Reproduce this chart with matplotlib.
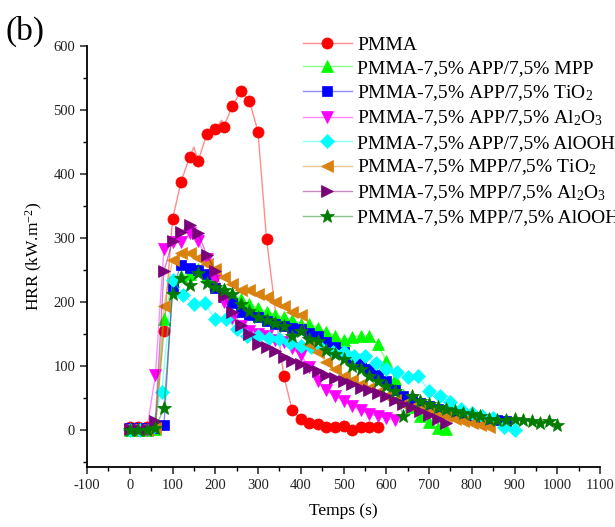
import matplotlib
matplotlib.use("Agg")
import matplotlib.pyplot as plt
from matplotlib.ticker import MultipleLocator
from matplotlib.colors import to_rgba
import numpy as np

plt.rcParams['font.family'] = ['Liberation Serif', 'DejaVu Serif']
plt.rcParams['mathtext.fontset'] = 'custom'
plt.rcParams['mathtext.rm'] = 'Liberation Serif'
plt.rcParams['mathtext.it'] = 'Liberation Serif:italic'
plt.rcParams['axes.unicode_minus'] = False

# ---------------- data ----------------
pmma_time = [0, 20, 40, 60, 80, 100, 120, 140, 160, 180, 200, 220, 240, 260, 280, 300, 320,
             360, 380, 400, 420, 440, 460, 480, 500, 520, 540, 560, 580]
pmma_hrr = [5, 5, 5, 5, 155, 329, 388, 426, 420, 462, 470, 474, 506, 530, 514, 466, 298,
            85, 31, 17, 10, 9, 5, 4, 6, 0, 5, 5, 5]
# extra points of the PMMA curve between markers
pmma_curve_time = [150, 215, 340]
pmma_curve_hrr = [442, 484, 190]

t20_740 = list(range(0, 741, 20))

app_mpp_time = t20_740
app_mpp_hrr = [0, 0, 0, 2, 173, 233, 241, 243, 252, 240, 228, 220, 212, 204, 197, 190, 185,
               180, 176, 172, 166, 166, 160, 153, 147, 140, 145, 147, 147, 134, 108, 80,
               55, 35, 22, 12, 3, 1]

app_tio2_time = list(range(0, 881, 20))
app_tio2_hrr = [3, 3, 3, 3, 8, 222, 257, 253, 250, 243, 222, 208, 198, 184, 180, 176, 170,
                165, 163, 160, 157, 152, 146, 138, 129, 121, 113, 104, 95, 86, 76, 62,
                53, 48, 42, 37, 33, 29, 26, 23, 21, 19, 17, 16, 14]

app_al2o3_time = list(range(0, 621, 20))
app_al2o3_hrr = [0, 0, 0, 86, 283, 293, 293, 307, 296, 267, 235, 200, 175, 162, 155, 150,
                 146, 140, 137, 128, 117, 98, 77, 62, 53, 45, 38, 31, 25, 22, 18, 15]

app_alooh_time = list(range(0, 901, 25))
app_alooh_hrr = [0, 0, 2, 60, 235, 211, 197, 198, 173, 173, 158, 147, 146, 143, 142, 136,
                 131, 130, 126, 122, 121, 116, 116, 105, 95, 90, 82, 84, 61, 53, 43, 32,
                 27, 22, 18, 4, 0]

mpp_tio2_time = list(range(0, 841, 20))
mpp_tio2_hrr = [0, 0, 0, 3, 193, 265, 276, 276, 268, 260, 252, 239, 228, 218, 218, 213,
                207, 200, 194, 184, 179, 134, 121, 106, 95, 84, 78, 72, 66, 60, 53, 46,
                40, 36, 32, 28, 24, 21, 17, 14, 11, 8, 5]

mpp_al2o3_time = t20_740
mpp_al2o3_hrr = [2, 2, 2, 14, 248, 295, 309, 321, 308, 273, 249, 209, 185, 164, 150, 134,
                 129, 123, 114, 108, 103, 97, 92, 86, 81, 76, 72, 66, 62, 58, 53, 47, 41,
                 35, 29, 23, 17, 11]

mpp_alooh_time = list(range(0, 1001, 20))
mpp_alooh_hrr = [0, 0, 0, 3, 34, 213, 238, 226, 245, 230, 223, 218, 213, 197, 186, 176,
                 171, 167, 162, 146, 155, 142, 139, 125, 119, 111, 100, 95, 84, 77, 69,
                 61, 22, 53, 45, 40, 36, 32, 29, 27, 25, 21, 17, 16, 16, 17, 16, 14, 10,
                 14, 8]

labels = ['PMMA',
          'PMMA-7,5% APP/7,5% MPP',
          'PMMA-7,5% APP/7,5% TiO$_2$',
          'PMMA-7,5% APP/7,5% Al$_2$O$_3$',
          'PMMA-7,5% APP/7,5% AlOOH',
          'PMMA-7,5% MPP/7,5% TiO$_2$',
          'PMMA-7,5% MPP/7,5% Al$_2$O$_3$',
          'PMMA-7,5% MPP/7,5% AlOOH']

x_ticks = list(range(-100, 1101, 100))
y_ticks = list(range(0, 601, 100))

# ---------------- figure ----------------
fig = plt.figure(figsize=(6.15, 5.27), dpi=100)
ax = fig.add_axes([87 / 615, 1 - 467 / 527, (600 - 87) / 615, (467 - 46) / 527])

colors = ['#FF0000', '#00FF00', '#0000FF', '#FF00FF', '#00FFFF', '#D9820F', '#7A007A', '#007A00']
markers = ['o', '^', 's', 'v', 'D', '<', '>', '*']
msizes = [8, 8.5, 7, 8.5, 7, 8.5, 8.5, 10]

series = [
    (pmma_time, pmma_hrr),
    (app_mpp_time, app_mpp_hrr),
    (app_tio2_time, app_tio2_hrr),
    (app_al2o3_time, app_al2o3_hrr),
    (app_alooh_time, app_alooh_hrr),
    (mpp_tio2_time, mpp_tio2_hrr),
    (mpp_al2o3_time, mpp_al2o3_hrr),
    (mpp_alooh_time, mpp_alooh_hrr),
]

handles = []
for i, (t, h) in enumerate(series):
    c = colors[i]
    light = to_rgba(c, 0.45)
    if i == 0:
        lt = np.array(list(t) + pmma_curve_time)
        lh = np.array(list(h) + pmma_curve_hrr)
        order = np.argsort(lt)
        ax.plot(lt[order], lh[order], color=light, lw=1.0, zorder=2)
        ax.plot(t, h, ls='none', marker=markers[i], ms=msizes[i],
                mfc=c, mec=c, mew=0.5, zorder=3 + i)
        hd, = ax.plot([], [], color=light, lw=1.0, marker=markers[i], ms=msizes[i],
                      mfc=c, mec=c, mew=0.5)
        handles.append(hd)
    else:
        ln, = ax.plot(t, h, color=light, lw=1.0, marker=markers[i], ms=msizes[i],
                      mfc=c, mec=c, mew=0.5, zorder=3 + i)
        handles.append(ln)

ax.set_xlim(-100, 1100)
ax.set_ylim(-58, 600)
ax.set_xticks(x_ticks)
ax.set_yticks(y_ticks)
ax.xaxis.set_minor_locator(MultipleLocator(50))
ax.yaxis.set_minor_locator(MultipleLocator(50))
ax.spines['top'].set_visible(False)
ax.spines['right'].set_visible(False)
for s in ['left', 'bottom']:
    ax.spines[s].set_linewidth(1.3)
ax.tick_params(which='major', direction='out', length=5, width=1.1, labelsize=10.5,
               colors='#222222')
ax.tick_params(which='minor', direction='out', length=3, width=1.0)

ax.set_xlabel('Temps (s)', fontsize=12.5, labelpad=8)
ax.set_ylabel('HRR (kW.m$^{-2}$)', fontsize=12.5, labelpad=6)

fig.text(5 / 615, 1 - 40 / 527, '(b)', fontsize=24, ha='left', va='baseline')

leg = fig.legend(handles, labels, loc='upper left',
                 bbox_to_anchor=(303 / 615, 1 - 36 / 527),
                 frameon=False, fontsize=14, numpoints=1, handlelength=2.5,
                 handletextpad=0.3, labelspacing=0.3, borderpad=0, borderaxespad=0)

fig.savefig('out.png', dpi=100)
